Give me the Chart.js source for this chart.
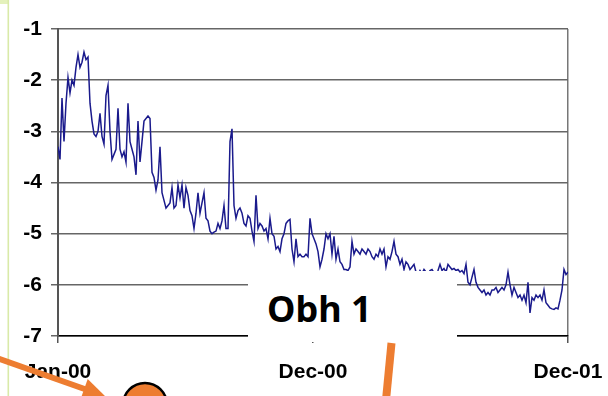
<!DOCTYPE html>
<html>
<head>
<meta charset="utf-8">
<script src="https://cdn.jsdelivr.net/npm/chart.js@4.4.1/dist/chart.umd.min.js"></script>
<style>
  html, body { margin: 0; padding: 0; background: #ffffff; }
  #wrap { position: relative; width: 608px; height: 396px; overflow: hidden; }
  #c { position: absolute; left: 0; top: 0; }
  #ov { position: absolute; left: 0; top: 0; pointer-events: none; }
</style>
</head>
<body>
<div id="wrap">
  <canvas id="c" width="608" height="396"></canvas>
  <svg id="ov" width="608" height="396" xmlns="http://www.w3.org/2000/svg">
    <rect x="0" y="0" width="8" height="4" fill="#e4f1bb"/>
    <rect x="7.5" y="0" width="1.6" height="396" fill="#d9eaa8"/>
    <rect x="248" y="271" width="209" height="71" fill="#ffffff"/>
    <text x="267" y="322" font-family="Noto Sans, sans-serif" font-weight="bold" font-size="36" fill="#000">Obh 1</text>
    <line x1="-6" y1="357" x2="86" y2="389.5" stroke="#ED7D31" stroke-width="6"/>
    <polygon points="106.6,397.6 80.3,399.9 87.7,379.1" fill="#ED7D31"/>
    <circle cx="145" cy="405" r="22" fill="#ED7D31" stroke="#000" stroke-width="2.5"/>
    <line x1="391.5" y1="343" x2="386" y2="400" stroke="#ED7D31" stroke-width="8"/>
  </svg>
</div>
<script>
// Series values (daily-ish samples, Jan-00 .. Dec-01)
const values = [
  -3.3,-3.55,-2.35,-3.2,-2.45,-1.95,-2.25,-2.0,-2.1,-1.75,
  -1.5,-1.75,-1.65,-1.45,-1.6,-1.55,-2.45,-2.8,-3.05,-3.1,
  -3.0,-2.65,-3.1,-3.25,-2.3,-2.1,-3.0,-3.55,-3.45,-3.35,
  -2.55,-3.35,-3.5,-3.4,-3.6,-2.45,-3.2,-3.35,-3.5,-3.85,
  -2.8,-3.6,-3.2,-2.8,-2.75,-2.7,-2.75,-3.8,-3.9,-4.15,
  -3.95,-3.3,-4.2,-4.35,-4.5,-4.45,-4.4,-4.1,-4.5,-4.45,
  -4.05,-4.3,-4.05,-4.5,-4.1,-4.25,-4.55,-4.65,-4.9,-4.6,
  -4.2,-4.6,-4.4,-4.2,-4.7,-4.75,-4.95,-5.0,-4.97,-4.95,
  -4.8,-4.9,-4.75,-4.45,-4.9,-4.9,-3.2,-2.95,-4.45,-4.7,
  -4.55,-4.5,-4.6,-4.8,-4.85,-4.65,-4.7,-4.95,-5.15,-4.25,
  -4.9,-4.8,-4.85,-4.95,-4.9,-5.1,-4.7,-5.0,-5.05,-5.3,
  -5.25,-5.35,-5.1,-5.0,-4.8,-4.75,-4.72,-5.3,-5.55,-5.1,
  -5.45,-5.4,-5.45,-5.45,-5.4,-5.45,-4.7,-5.0,-5.1,-5.2,
  -5.35,-5.65,-5.5,-5.3,-5.0,-5.1,-5.0,-5.4,-5.05,-5.5,
  -5.3,-5.55,-5.6,-5.7,-5.7,-5.72,-5.65,-5.15,-5.4,-5.3,
  -5.35,-5.4,-5.3,-5.35,-5.4,-5.3,-5.35,-5.45,-5.5,-5.4,
  -5.45,-5.3,-5.4,-5.3,-5.65,-5.45,-5.5,-5.35,-5.15,-5.4,
  -5.45,-5.6,-5.5,-5.7,-5.55,-5.6,-5.7,-5.65,-5.6,-5.75,
  -5.8,-5.72,-5.78,-5.7,-5.75,-5.8,-5.72,-5.7,-5.76,-5.8,
  -5.72,-5.6,-5.72,-5.68,-5.75,-5.6,-5.65,-5.7,-5.68,-5.72,
  -5.7,-5.75,-5.72,-5.78,-5.6,-5.95,-6.0,-5.85,-5.7,-5.95,
  -6.05,-6.1,-6.15,-6.1,-6.2,-6.15,-6.2,-6.1,-6.1,-6.05,
  -6.15,-6.1,-6.05,-6.1,-6.0,-5.75,-6.0,-6.2,-6.05,-6.15,
  -6.25,-6.2,-6.3,-6.2,-6.35,-5.95,-6.55,-6.25,-6.3,-6.2,
  -6.25,-6.2,-6.3,-6.1,-6.35,-6.4,-6.45,-6.47,-6.48,-6.45,
  -6.47,-6.3,-6.1,-5.7,-5.8,-5.75
];
// X tick labels and the sample index each sits at
const tickLabels = ['Jan-00', 'Dec-00', 'Dec-01'];
const tickIndex = [0, (values.length - 1) / 2, values.length - 1];
// Y axis range
const yTicks = [-7, -6, -5, -4, -3, -2, -1];

const points = values.map((v, i) => ({ x: i, y: v }));
const tickFont = { family: 'Liberation Sans, Arial, sans-serif', size: 21, weight: 'bold' };

new Chart(document.getElementById('c'), {
  type: 'line',
  data: {
    datasets: [{
      data: points,
      borderColor: '#1a1a8c',
      borderWidth: 1.5,
      pointRadius: 0,
      tension: 0,
      fill: false
    }]
  },
  options: {
    responsive: false,
    animation: false,
    devicePixelRatio: 1,
    layout: { padding: { left: 0, right: 40, top: 29, bottom: 0 } },
    plugins: { legend: { display: false }, tooltip: { enabled: false } },
    scales: {
      x: {
        type: 'linear',
        min: 0,
        max: values.length - 1,
        afterFit: s => { s.height = 60; s.paddingLeft = 0; s.paddingRight = 0; },
        afterBuildTicks: s => { s.ticks = tickIndex.map(v => ({ value: v })); },
        border: { display: true, color: '#000', width: 1.5 },
        grid: {
          drawOnChartArea: true,
          color: ctx => (ctx.index === 1 ? 'rgba(0,0,0,0)' : '#777'),
          tickColor: '#555',
          tickLength: 7,
          lineWidth: 1.5
        },
        ticks: {
          autoSkip: false,
          maxRotation: 0,
          padding: 17,
          color: '#000',
          font: tickFont,
          callback: (v, i) => tickLabels[i]
        }
      },
      y: {
        min: yTicks[0],
        max: yTicks[yTicks.length - 1],
        afterFit: s => { s.width = 58; s.paddingTop = 0; s.paddingBottom = 0; },
        afterBuildTicks: s => { s.ticks = yTicks.map(v => ({ value: v })); },
        border: { display: true, color: '#555', width: 2 },
        grid: { color: '#666', lineWidth: 1.5, tickLength: 7, tickColor: '#666' },
        ticks: { padding: 9, color: '#000', font: tickFont }
      }
    }
  }
});
</script>
</body>
</html>
